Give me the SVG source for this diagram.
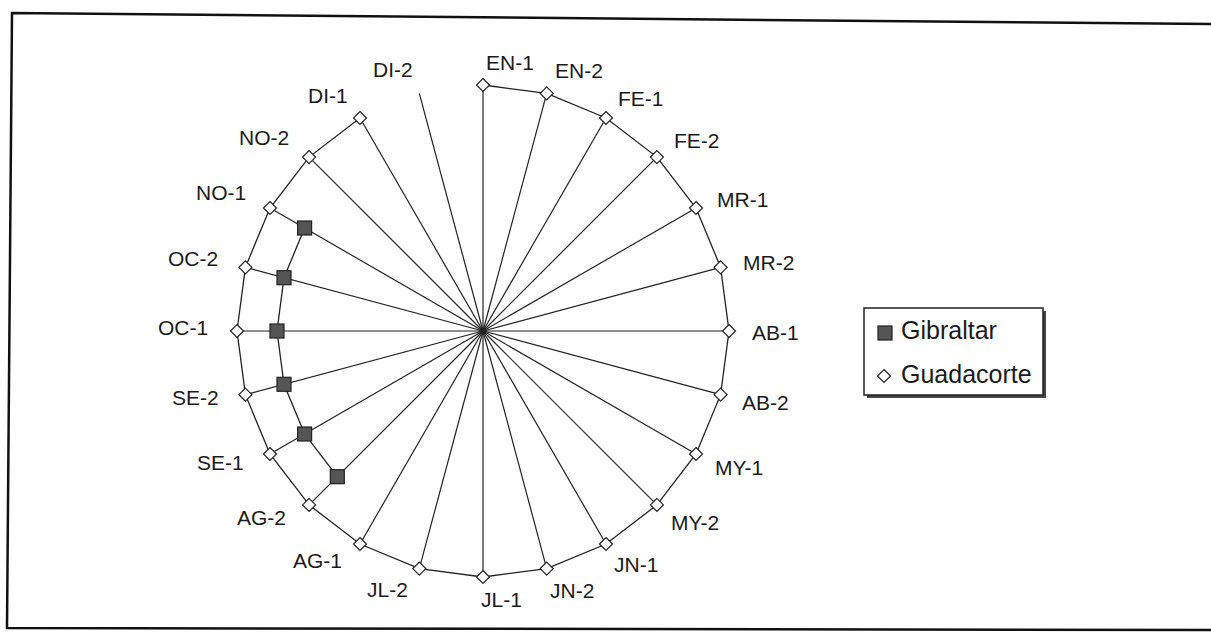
<svg xmlns="http://www.w3.org/2000/svg" width="1211" height="633" viewBox="0 0 1211 633">
<style>
.lbl{font-family:"Liberation Sans",Arial,sans-serif;font-size:21px;fill:#1a1a1a}
.leg{font-family:"Liberation Sans",Arial,sans-serif;font-size:25px;fill:#1a1a1a}
.spoke{stroke:#222;stroke-width:1.2;fill:none}
.series{stroke:#222;stroke-width:1.3;fill:none}
.dia{fill:#fff;stroke:#222;stroke-width:1.2}
.sq{fill:#555;stroke:#222;stroke-width:1.2}
</style>
<defs>
<path id="d" d="M0,-6.5 L6.5,0 L0,6.5 L-6.5,0 Z"/>
<rect id="s" x="-7" y="-7" width="14" height="14"/>
</defs>
<rect width="1211" height="633" fill="#fff"/>
<g id="frame">
<path d="M1211,24 L12,13 L7,628 L1211,630" fill="none" stroke="#111" stroke-width="2.5"/>
</g>
<g id="connectors">
<g class="spoke">
<line x1="483" y1="331" x2="483" y2="85"/>
<line x1="483" y1="331" x2="546.7" y2="93.4"/>
<line x1="483" y1="331" x2="606" y2="118"/>
<line x1="483" y1="331" x2="656.9" y2="157.1"/>
<line x1="483" y1="331" x2="696" y2="208"/>
<line x1="483" y1="331" x2="720.6" y2="267.3"/>
<line x1="483" y1="331" x2="729" y2="331"/>
<line x1="483" y1="331" x2="720.6" y2="394.7"/>
<line x1="483" y1="331" x2="696" y2="454"/>
<line x1="483" y1="331" x2="656.9" y2="504.9"/>
<line x1="483" y1="331" x2="606" y2="544"/>
<line x1="483" y1="331" x2="546.7" y2="568.6"/>
<line x1="483" y1="331" x2="483" y2="577"/>
<line x1="483" y1="331" x2="419.3" y2="568.6"/>
<line x1="483" y1="331" x2="360" y2="544"/>
<line x1="483" y1="331" x2="309.1" y2="504.9"/>
<line x1="483" y1="331" x2="270" y2="454"/>
<line x1="483" y1="331" x2="245.4" y2="394.7"/>
<line x1="483" y1="331" x2="237" y2="331"/>
<line x1="483" y1="331" x2="245.4" y2="267.3"/>
<line x1="483" y1="331" x2="270" y2="208"/>
<line x1="483" y1="331" x2="309.1" y2="157.1"/>
<line x1="483" y1="331" x2="360" y2="118"/>
<line x1="483" y1="331" x2="419.3" y2="93.4"/>
</g>
<polyline class="series" points="483,85 546.7,93.4 606,118 656.9,157.1 696,208 720.6,267.3 729,331 720.6,394.7 696,454 656.9,504.9 606,544 546.7,568.6 483,577 419.3,568.6 360,544 309.1,504.9 270,454 245.4,394.7 237,331 245.4,267.3 270,208 309.1,157.1 360,118"/>
<polyline class="series" points="304.6,228 284,277.7 277,331 284,384.3 304.6,434 337.3,476.7"/>
</g>
<g id="center"><path d="M483,326.5 L487.5,331 L483,335.5 L478.5,331 Z" fill="#222"/></g>
<g id="guadacorte">
<use href="#d" class="dia" x="483" y="85"/>
<use href="#d" class="dia" x="546.7" y="93.4"/>
<use href="#d" class="dia" x="606" y="118"/>
<use href="#d" class="dia" x="656.9" y="157.1"/>
<use href="#d" class="dia" x="696" y="208"/>
<use href="#d" class="dia" x="720.6" y="267.3"/>
<use href="#d" class="dia" x="729" y="331"/>
<use href="#d" class="dia" x="720.6" y="394.7"/>
<use href="#d" class="dia" x="696" y="454"/>
<use href="#d" class="dia" x="656.9" y="504.9"/>
<use href="#d" class="dia" x="606" y="544"/>
<use href="#d" class="dia" x="546.7" y="568.6"/>
<use href="#d" class="dia" x="483" y="577"/>
<use href="#d" class="dia" x="419.3" y="568.6"/>
<use href="#d" class="dia" x="360" y="544"/>
<use href="#d" class="dia" x="309.1" y="504.9"/>
<use href="#d" class="dia" x="270" y="454"/>
<use href="#d" class="dia" x="245.4" y="394.7"/>
<use href="#d" class="dia" x="237" y="331"/>
<use href="#d" class="dia" x="245.4" y="267.3"/>
<use href="#d" class="dia" x="270" y="208"/>
<use href="#d" class="dia" x="309.1" y="157.1"/>
<use href="#d" class="dia" x="360" y="118"/>
</g>
<g id="gibraltar">
<use href="#s" class="sq" x="304.6" y="228"/>
<use href="#s" class="sq" x="284" y="277.7"/>
<use href="#s" class="sq" x="277" y="331"/>
<use href="#s" class="sq" x="284" y="384.3"/>
<use href="#s" class="sq" x="304.6" y="434"/>
<use href="#s" class="sq" x="337.3" y="476.7"/>
</g>
<g id="labels">
<text class="lbl" x="486" y="70">EN-1</text>
<text class="lbl" x="555" y="78">EN-2</text>
<text class="lbl" x="618" y="106">FE-1</text>
<text class="lbl" x="674" y="148">FE-2</text>
<text class="lbl" x="717" y="207">MR-1</text>
<text class="lbl" x="743" y="270">MR-2</text>
<text class="lbl" x="752" y="340">AB-1</text>
<text class="lbl" x="742" y="410">AB-2</text>
<text class="lbl" x="715" y="475">MY-1</text>
<text class="lbl" x="671" y="530">MY-2</text>
<text class="lbl" x="614" y="572">JN-1</text>
<text class="lbl" x="550" y="598">JN-2</text>
<text class="lbl" x="481" y="607">JL-1</text>
<text class="lbl" x="367" y="597">JL-2</text>
<text class="lbl" x="293" y="568">AG-1</text>
<text class="lbl" x="237" y="525">AG-2</text>
<text class="lbl" x="197" y="470">SE-1</text>
<text class="lbl" x="172" y="405">SE-2</text>
<text class="lbl" x="158" y="335">OC-1</text>
<text class="lbl" x="168" y="266">OC-2</text>
<text class="lbl" x="196" y="200">NO-1</text>
<text class="lbl" x="239" y="145">NO-2</text>
<text class="lbl" x="308" y="103">DI-1</text>
<text class="lbl" x="373" y="77">DI-2</text>
</g>
<g id="legend">
<rect x="867" y="311" width="179" height="87" fill="#444"/>
<rect x="864" y="308" width="179" height="87" fill="#fff" stroke="#222" stroke-width="1.5"/>
<rect x="878" y="326" width="14" height="14" class="sq"/>
<text class="leg" x="901" y="339">Gibraltar</text>
<use href="#d" class="dia" x="884" y="376"/>
<text class="leg" x="901" y="383">Guadacorte</text>
</g>
</svg>
